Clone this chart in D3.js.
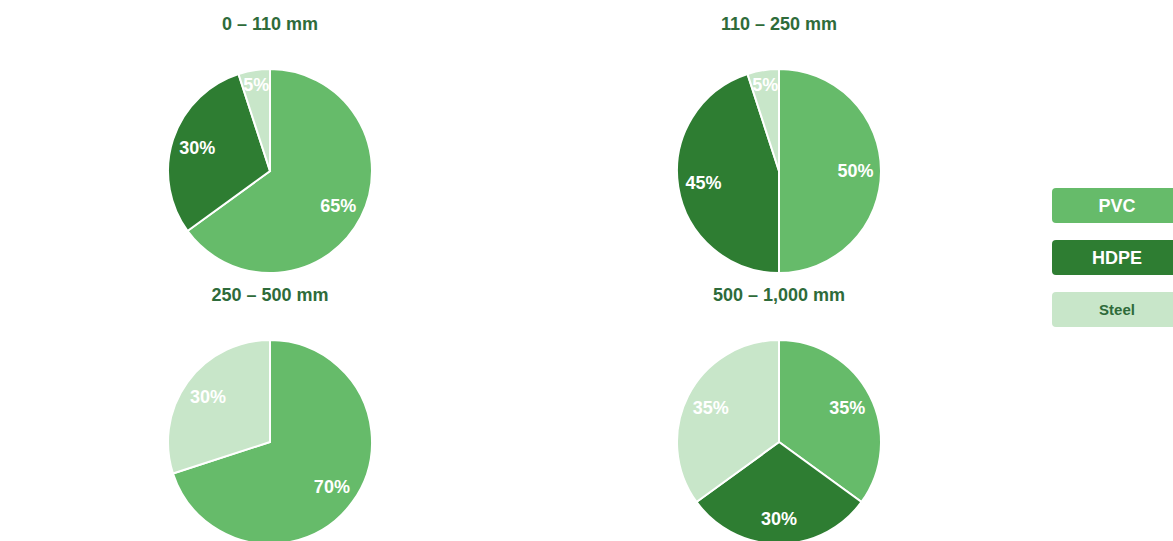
<!DOCTYPE html>
<html>
<head>
<meta charset="utf-8">
<script src="https://cdn.jsdelivr.net/npm/d3@7"></script>
<style>
  html, body { margin: 0; padding: 0; background: #fff; overflow: hidden; }
  svg { display: block; font-family: "Liberation Sans", Arial, sans-serif; }
</style>
</head>
<body>
<svg id="chart" width="1173" height="541"></svg>
<script>
// Pipe material share by diameter range
const sizeRanges = ["0 – 110 mm", "110 – 250 mm", "250 – 500 mm", "500 – 1,000 mm"];
const materials = ["PVC", "HDPE", "Steel"];
const pvcShare = [65, 50, 70, 35];
const hdpeShare = [30, 45, 0, 30];
const steelShare = [5, 5, 30, 35];

const materialColors = ["#66bb6a", "#2e7d32", "#c8e6c9"];
const legendText = ["#ffffff", "#ffffff", "#2e6b3a"];
const titleColor = "#2e6b3a";

const svg = d3.select("#chart");
const R = 102;

const colX = d3.scaleOrdinal().domain([0, 1]).range([270, 779]);
const rowY = d3.scaleOrdinal().domain([0, 1]).range([171, 442]);
const color = d3.scaleOrdinal().domain(materials).range(materialColors);

const pie = d3.pie().sort(null).value(d => d.value);
const arc = d3.arc().innerRadius(0).outerRadius(R);
const labelArc = d3.arc().innerRadius(R * 0.5).outerRadius(R);
const smallLabelArc = d3.arc().innerRadius(R * 0.72).outerRadius(R);

sizeRanges.forEach((range, i) => {
  const cx = colX(i % 2), cy = rowY(Math.floor(i / 2));
  const rows = materials.map((m, j) => ({
    material: m,
    value: [pvcShare, hdpeShare, steelShare][j][i]
  }));

  const g = svg.append("g").attr("transform", `translate(${cx},${cy})`);

  g.append("text")
    .attr("x", 0)
    .attr("y", -R - 45)
    .attr("text-anchor", "middle")
    .attr("dy", "0.35em")
    .attr("fill", titleColor)
    .attr("font-size", 18)
    .attr("font-weight", "bold")
    .text(range);

  const slices = pie(rows).filter(d => d.data.value > 0);

  g.selectAll("path.slice")
    .data(slices)
    .join("path")
    .attr("class", "slice")
    .attr("d", arc)
    .attr("fill", d => color(d.data.material))
    .attr("stroke", "#ffffff")
    .attr("stroke-width", 2);

  g.selectAll("text.pct")
    .data(slices)
    .join("text")
    .attr("class", "pct")
    .attr("transform", d => {
      const c = (d.data.value < 10 ? smallLabelArc : labelArc).centroid(d);
      return `translate(${c[0]},${c[1]})`;
    })
    .attr("text-anchor", "middle")
    .attr("dy", "0.35em")
    .attr("fill", "#ffffff")
    .attr("font-size", 18)
    .attr("font-weight", "bold")
    .text(d => d.data.value + "%");
});

// Legend
const legendY = d3.scalePoint().domain(materials).range([188, 292]);
const legend = svg.append("g");
materials.forEach((m, j) => {
  const y = legendY(m);
  legend.append("rect")
    .attr("x", 1052)
    .attr("y", y)
    .attr("width", 130)
    .attr("height", 35)
    .attr("rx", 4)
    .attr("fill", color(m));
  legend.append("text")
    .attr("x", 1117)
    .attr("y", y + 17.5)
    .attr("dy", "0.35em")
    .attr("text-anchor", "middle")
    .attr("fill", legendText[j])
    .attr("font-size", m === "Steel" ? 15 : 18)
    .attr("font-weight", "bold")
    .text(m);
});
</script>
</body>
</html>
